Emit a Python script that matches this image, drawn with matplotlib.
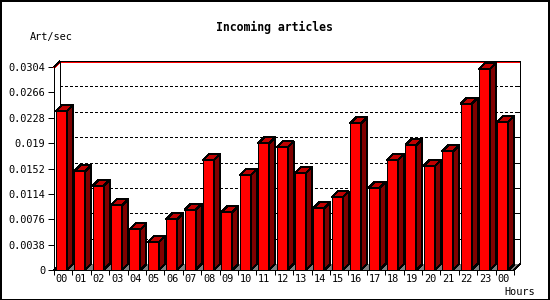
import matplotlib
matplotlib.use("Agg")
import matplotlib.pyplot as plt
from matplotlib.patches import Polygon, Rectangle
import numpy as np

# incoming article rate per hour (art/sec)
hours = ['00', '01', '02', '03', '04', '05', '06', '07', '08', '09', '10', '11',
         '12', '13', '14', '15', '16', '17', '18', '19', '20', '21', '22', '23', '00']
rates = [0.0238, 0.0148, 0.0126, 0.0097, 0.0061, 0.0042, 0.0076, 0.0090, 0.0165,
         0.0087, 0.0142, 0.0190, 0.0184, 0.0145, 0.0093, 0.0109, 0.0220, 0.0123,
         0.0165, 0.0187, 0.0156, 0.0178, 0.0249, 0.0301, 0.0222]
yticks = [0, 0.0038, 0.0076, 0.0114, 0.0152, 0.019, 0.0228, 0.0266, 0.0304]
ytick_labels = ['0', '0.0038', '0.0076', '0.0114', '0.0152', '0.019', '0.0228', '0.0266', '0.0304']
max_rate = 0.03025

W, H = 550, 300
px = 0.72  # one pixel in points
font = 'DejaVu Sans Mono'

fig = plt.figure(figsize=(W / 100, H / 100), dpi=100)
ax = fig.add_axes([54 / W, 30 / H, 460 / W, 203 / H])
n = len(rates)
ymax = yticks[-1]
ax.set_xlim(0, n)
ax.set_ylim(0, ymax)
for s in ax.spines.values():
    s.set_visible(False)
ax.patch.set_visible(False)

# depth of the fake 3d look, 6 px
ddx = 6 * n / 460
ddy = 6 * ymax / 203

def line(xs, ys, **kw):
    kw.setdefault('color', 'black')
    kw.setdefault('lw', px)
    ax.plot(xs, ys, clip_on=False, antialiased=False, solid_capstyle='butt', **kw)

# floor
ax.add_patch(Polygon([(0, 0), (n, 0), (n + ddx, ddy), (ddx, ddy)], closed=True,
                     facecolor='#808080', edgecolor='none', clip_on=False, antialiased=False))

# back wall grid
for t in yticks[1:-1]:
    line([ddx, n + ddx], [t + ddy, t + ddy], linestyle=(0, (2.5, 2.5)))
    line([n + ddx - 3 * n / 460, n + ddx], [t + ddy, t + ddy])

# max line
line([0, ddx, n + ddx], [max_rate, max_rate + ddy, max_rate + ddy], color='#ff0000')

# back wall frame
line([ddx, ddx, n + ddx, n + ddx], [ddy, ymax + ddy, ymax + ddy, ddy])
line([0, ddx], [0, ddy])
line([0, ddx], [ymax, ymax + ddy])
line([n, n + ddx], [0, ddy])

# bars
x = np.arange(n)
x0 = x + 0.1
x1 = x + 0.7
ax.bar(x0, rates, width=0.6, align='edge', color='#ff0000', edgecolor='black',
       linewidth=px, clip_on=False, antialiased=False, zorder=3)
for a, b, v in zip(x0, x1, rates):
    ax.add_patch(Polygon([(a, v), (b, v), (b + ddx, v + ddy), (a + ddx, v + ddy)], closed=True,
                         facecolor='#c00000', edgecolor='black', lw=px, clip_on=False,
                         antialiased=False, zorder=3))
    ax.add_patch(Polygon([(b, 0), (b + ddx, ddy), (b + ddx, v + ddy), (b, v)], closed=True,
                         facecolor='#800000', edgecolor='black', lw=px, clip_on=False,
                         antialiased=False, zorder=3))

# front axes
line([0, 0], [0, ymax], zorder=4)
line([0, n], [0, 0], zorder=4)

ax.set_yticks(yticks)
ax.set_yticklabels(ytick_labels, fontfamily=font, fontsize=7.4)
ax.tick_params(axis='y', direction='out', length=6 * px, width=px, pad=2)
ax.set_xticks(np.arange(n + 1))
ax.set_xticklabels([])
ax.tick_params(axis='x', which='major', direction='out', length=5 * px, width=px)
ax.set_xticks(x + 0.43, minor=True)
ax.set_xticklabels(hours, minor=True, fontfamily=font, fontsize=7.4)
ax.tick_params(axis='x', which='minor', length=0, pad=3)

fig.text(274 / W, 1 - 27 / H, 'Incoming articles', ha='center', va='center',
         fontfamily=font, fontweight='bold', fontsize=8.3)
fig.text(30 / W, 1 - 37 / H, 'Art/sec', ha='left', va='center', fontfamily=font, fontsize=7.4)
fig.text(504 / W, 1 - 292 / H, 'Hours', ha='left', va='center', fontfamily=font, fontsize=7.4)

fig.patches.append(Rectangle((0.5 / W, 0.5 / H), 1 - 1.5 / W, 1 - 1.5 / H, transform=fig.transFigure,
                             fill=False, edgecolor='black', lw=1.5 * px, antialiased=False))

fig.savefig('out.png', dpi=100)
